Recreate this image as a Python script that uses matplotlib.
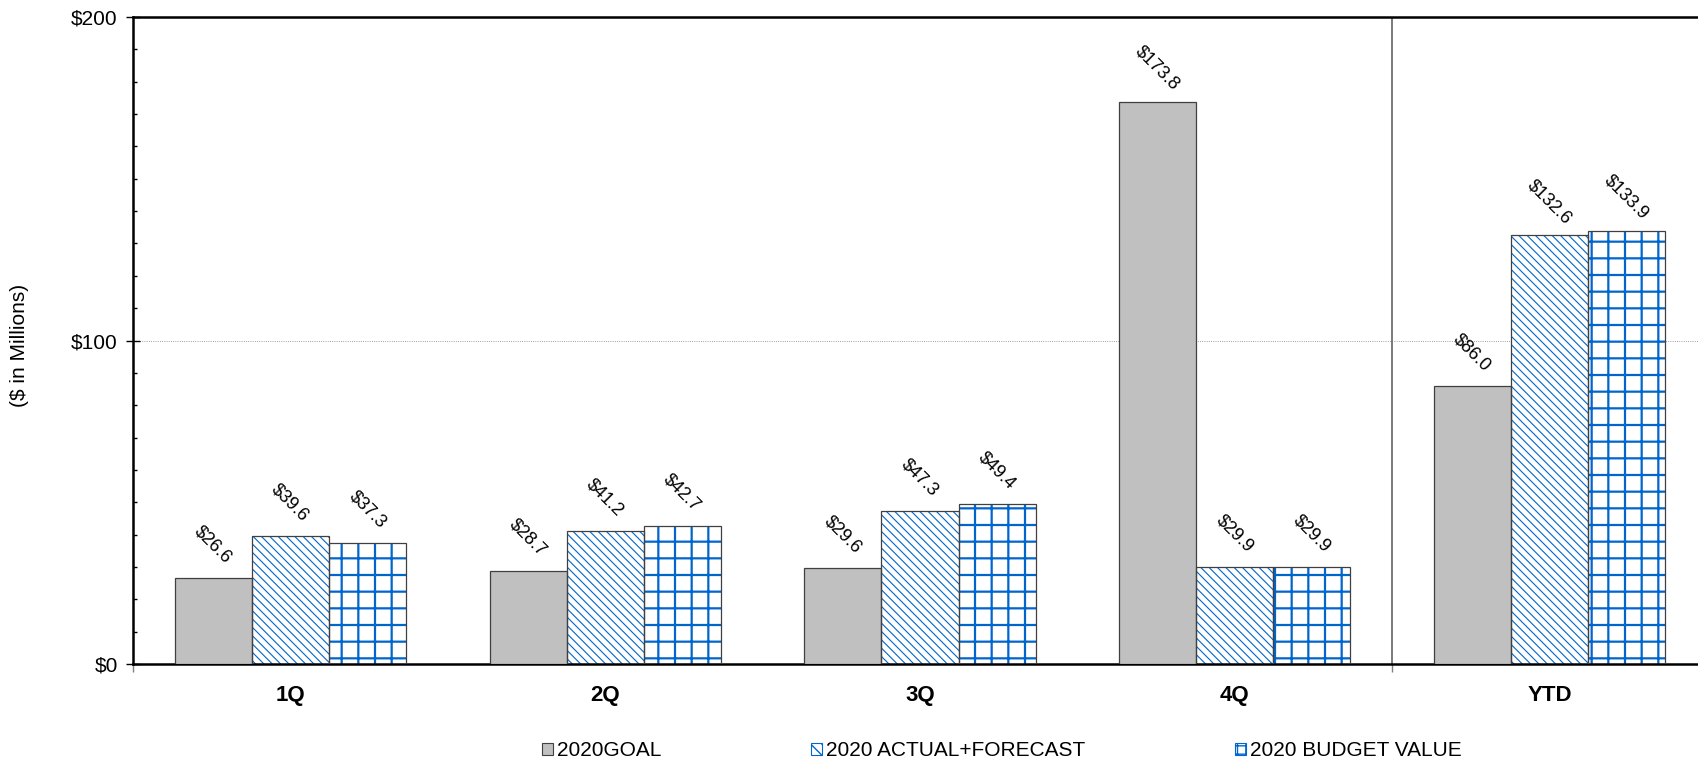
import matplotlib
matplotlib.use('Agg')
import matplotlib.pyplot as plt
from matplotlib.patches import Patch
import numpy as np

plt.rcParams['font.family'] = ['Liberation Sans', 'DejaVu Sans']

# data
quarters = ['1Q', '2Q', '3Q', '4Q', 'YTD']
goal = [26.6, 28.7, 29.6, 173.8, 86.0]
actual_forecast = [39.6, 41.2, 47.3, 29.9, 132.6]
budget = [37.3, 42.7, 49.4, 29.9, 133.9]
series_names = ['2020GOAL', '2020 ACTUAL+FORECAST', '2020 BUDGET VALUE']

blue = '#0066CC'
edge = '#404040'
w = 0.245
x = np.arange(len(quarters))

fig = plt.figure(figsize=(16.99, 7.68), dpi=100)
ax = fig.add_axes([133/1699, 104/768, 1574/1699, 647/768])


def hatched_bars(xpos, vals, hatch, hlw):
    with plt.rc_context({'hatch.linewidth': hlw, 'hatch.color': blue}):
        bars = ax.bar(xpos, vals, w, color='white', edgecolor=blue,
                      hatch=hatch, linewidth=0, zorder=2)
        for b in bars:
            if hasattr(b, 'set_hatch_linewidth'):
                b.set_hatch_linewidth(hlw)
    ax.bar(xpos, vals, w, fill=False, edgecolor=edge, linewidth=0.9, zorder=3)


ax.bar(x - w, goal, w, color='#C0C0C0', edgecolor=edge, linewidth=0.9, zorder=3)
hatched_bars(x, actual_forecast, '\\\\\\\\', 0.8)
hatched_bars(x + w, budget, '+', 1.6)

# value labels
for xs, vals in [(x - w, goal), (x, actual_forecast), (x + w, budget)]:
    for xi, v in zip(xs, vals):
        ax.annotate(f'${v:.1f}', (xi, v), xytext=(0, 24), textcoords='offset points',
                    rotation=-45, ha='center', va='center', rotation_mode='anchor',
                    fontsize=13, zorder=4)

ax.set_xlim(-0.5, 4.5)
ax.set_ylim(0, 200)

ax.set_yticks([0, 100, 200])
ax.set_yticklabels(['$0', '$100', '$200'], fontsize=15)
ax.set_yticks(np.arange(10, 200, 10), minor=True)
ax.tick_params(axis='y', which='major', direction='inout', length=10, width=1, pad=6)
ax.tick_params(axis='y', which='minor', direction='in', length=3, width=1)

ax.set_xticks(x)
ax.set_xticklabels(quarters, fontsize=16, fontweight='bold')
ax.set_xticks([-0.5, 3.5], minor=True)
ax.tick_params(axis='x', which='major', length=0, pad=15)
ax.tick_params(axis='x', which='minor', direction='out', length=6, width=1, color='#808080')

ax.axhline(100, color='#808080', linewidth=0.6, linestyle=':', zorder=1)
ax.axvline(3.5, color='#707070', linewidth=1.3, zorder=1)

for s in ['left', 'bottom', 'top']:
    ax.spines[s].set_linewidth(1.8)
    ax.spines[s].set_color('black')
ax.spines['right'].set_visible(False)

fig.text(20/1699, 1 - 345/768, '($ in Millions)', rotation=90, ha='center', va='center',
         fontsize=15)

handles = [
    Patch(facecolor='#C0C0C0', edgecolor=edge, linewidth=0.8),
    Patch(facecolor='white', edgecolor=blue, hatch='\\\\\\', linewidth=0.8),
    Patch(facecolor='white', edgecolor=blue, hatch='++', linewidth=0.8),
]
fig.legend(handles, series_names, loc='center', bbox_to_anchor=(1002/1699, 1 - 751/768),
           ncol=3, frameon=False, fontsize=15, handlelength=0.5, handleheight=0.55,
           handletextpad=0.2, columnspacing=7.2)

fig.savefig('out.png', dpi=100)
